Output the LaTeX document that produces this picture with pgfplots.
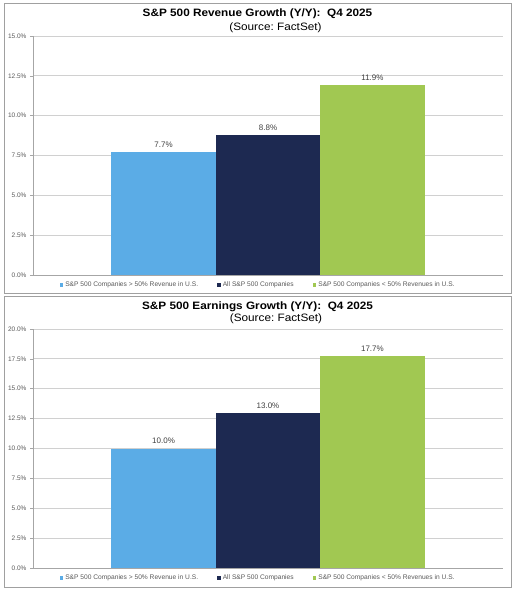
\documentclass[border=0pt]{standalone}
\usepackage{fontspec}
\setmainfont{Liberation Sans}
\newfontfamily\titlefont[FakeStretch=1.1]{Liberation Sans}
\usepackage{pgfplots}
\pgfplotsset{compat=1.18}
\definecolor{cblue}{HTML}{5BACE6}
\definecolor{cnavy}{HTML}{1D2951}
\definecolor{cgreen}{HTML}{A1C852}
\definecolor{tickgray}{HTML}{595959}
\definecolor{labelgray}{HTML}{404040}
\definecolor{gridgray}{HTML}{D0D0D0}
\definecolor{axisgray}{HTML}{A6A6A6}
\definecolor{framegray}{HTML}{A0A0A0}
\pgfplotsset{panel/.style={
  scale only axis, width=470pt, height=239pt, anchor=south west,
  ybar, bar width=1, bar shift=0pt,
  xmin=-2.25, xmax=2.25, ymin=0,
  xtick=\empty,
  axis x line*=bottom, axis y line*=left,
  axis line style={draw=axisgray, line width=0.8pt, -},
  ymajorgrids, grid style={draw=gridgray, line width=0.8pt},
  tick align=outside, major tick length=3pt,
  tick style={draw=axisgray, line width=0.6pt},
  yticklabel style={font=\fontsize{6.5}{7}\selectfont, text=tickgray},
  /pgf/number format/assume math mode=true,
  yticklabel={\pgfmathprintnumber[fixed,fixed zerofill,precision=1]{\tick}\%},
  nodes near coords={\pgfmathprintnumber[fixed,fixed zerofill,precision=1]{\pgfplotspointmeta}\%},
  nodes near coords style={font=\fontsize{8}{9}\selectfont, text=labelgray, yshift=1pt},
  legend columns=3,
  legend style={draw=none, fill=none, font=\fontsize{6.65}{7}\selectfont, text=tickgray,
    at={(0.479,-0.042)}, anchor=center,
    /tikz/every even column/.append style={column sep=17pt}},
  legend image code/.code={\fill[##1] (0pt,-1.8pt) rectangle (3.6pt,1.8pt);},
  clip=false,
}}
\begin{document}
\begin{tikzpicture}
\path[use as bounding box] (0pt,0pt) rectangle (516pt,-590pt);
\draw[framegray, line width=1pt] (4pt,-3pt) rectangle (511pt,-293pt);
\draw[framegray, line width=1pt] (4pt,-296pt) rectangle (511pt,-587pt);
\node[font=\titlefont\bfseries\fontsize{10.7}{12}\selectfont] at (257.5pt,-14pt) {S\&P 500 Revenue Growth (Y/Y):\ \ Q4 2025};
\node[font=\titlefont\fontsize{10.7}{12}\selectfont] at (275.5pt,-27.5pt) {(Source:\ FactSet)};
\node[font=\titlefont\bfseries\fontsize{10.7}{12}\selectfont] at (257.5pt,-307pt) {S\&P 500 Earnings Growth (Y/Y):\ \ Q4 2025};
\node[font=\titlefont\fontsize{10.7}{12}\selectfont] at (276pt,-319pt) {(Source:\ FactSet)};

\begin{axis}[panel, at={(33pt,-275pt)}, ymax=15, ytick distance=2.5]
\addplot[fill=cblue, draw=none, bar shift=0pt] coordinates {(-1,7.7)};
\addlegendentry{S\&P 500 Companies > 50\% Revenue in U.S.}
\addplot[fill=cnavy, draw=none, bar shift=0pt] coordinates {(0,8.8)};
\addlegendentry{All S\&P 500 Companies}
\addplot[fill=cgreen, draw=none, bar shift=0pt] coordinates {(1,11.9)};
\addlegendentry{S\&P 500 Companies < 50\% Revenues in U.S.}
\end{axis}

\begin{axis}[panel, at={(33pt,-568pt)}, ymax=20, ytick distance=2.5]
\addplot[fill=cblue, draw=none, bar shift=0pt] coordinates {(-1,10.0)};
\addlegendentry{S\&P 500 Companies > 50\% Revenue in U.S.}
\addplot[fill=cnavy, draw=none, bar shift=0pt] coordinates {(0,13.0)};
\addlegendentry{All S\&P 500 Companies}
\addplot[fill=cgreen, draw=none, bar shift=0pt] coordinates {(1,17.7)};
\addlegendentry{S\&P 500 Companies < 50\% Revenues in U.S.}
\end{axis}
\end{tikzpicture}
\end{document}
